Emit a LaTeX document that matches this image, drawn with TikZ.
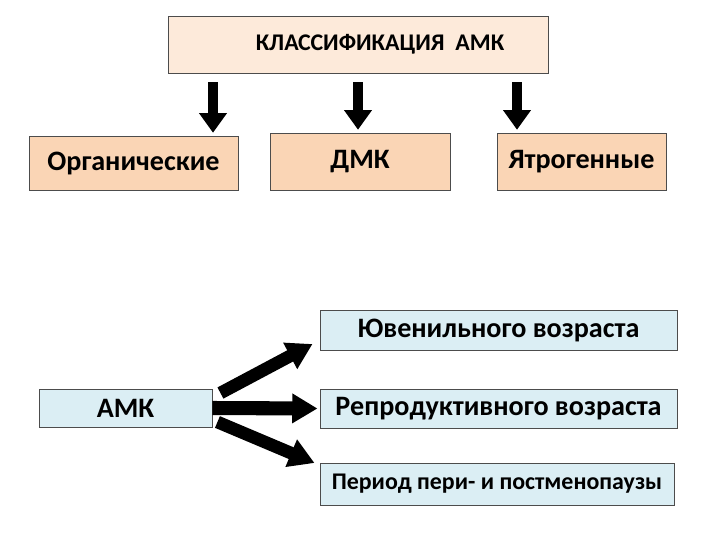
\documentclass[tikz,border=0pt]{standalone}
\usepackage{fontspec}
\setmainfont{Carlito}
\usetikzlibrary{arrows.meta}
\definecolor{peachlight}{HTML}{FDEADA}
\definecolor{peach}{HTML}{FAD5B5}
\definecolor{paleblue}{HTML}{DBEEF4}

\begin{document}
\begin{tikzpicture}[x=0.025cm,y=-0.025cm,
    box/.style={draw=black!70,line width=0.6pt,inner sep=0pt,font=\fontsize{20}{22}\selectfont\bfseries},
    downarrow/.style={line width=7pt,-{Triangle[width=19pt,length=14pt]},shorten <=0.225cm,shorten >=0.07cm},
    fatarrow/.style={line width=9pt,-{Triangle[width=20pt,length=18pt]}}]
  \useasboundingbox (0,0) rectangle (720,540);
  \node[box,fill=peachlight,minimum width=9.5cm,minimum height=1.425cm,
        font=\fontsize{17}{19}\selectfont\bfseries] (cls) at (358,44.5)
        {\hspace*{1.1cm}\raisebox{-0.1cm}{КЛАССИФИКАЦИЯ\ \ АМК}};
  \node[box,fill=peach,minimum width=5.225cm,minimum height=1.35cm] (org) at (133.5,163) {Органические};
  \node[box,fill=peach,minimum width=4.5cm,minimum height=1.425cm] (dmk) at (360,161.5) {ДМК};
  \node[box,fill=peach,minimum width=4.225cm,minimum height=1.425cm] (yat) at (581.5,161.5) {Ятрогенные};
  \coordinate (d1) at (213,0);
  \coordinate (d2) at (358,0);
  \coordinate (d3) at (517,0);
  \draw[downarrow] (cls.south -| d1) -- (org.north -| d1);
  \draw[downarrow] (cls.south -| d2) -- (dmk.north -| d2);
  \draw[downarrow] (cls.south -| d3) -- (yat.north -| d3);

  \node[box,fill=paleblue,minimum width=4.325cm,minimum height=0.95cm] (amk) at (125.5,408) {АМК};
  \node[box,fill=paleblue,minimum width=8.925cm,minimum height=1cm] (juv) at (498.5,330) {Ювенильного возраста};
  \node[box,fill=paleblue,minimum width=8.925cm,minimum height=0.975cm] (rep) at (498.5,408.5) {Репродуктивного возраста};
  \node[box,fill=paleblue,minimum width=8.85cm,minimum height=1.05cm,
        font=\fontsize{17}{19}\selectfont\bfseries] (per) at (497,484) {Период пери- и постменопаузы};
  \draw[fatarrow] ([shift={(8,-15)}]amk.east) -- ([shift={(-7,14)}]juv.west);
  \draw[fatarrow,line width=10pt] (amk.east) -- ([xshift=-0.05cm]rep.west);
  \draw[fatarrow] ([shift={(5,14)}]amk.east) -- ([shift={(-5,-21)}]per.west);
\end{tikzpicture}
\end{document}
